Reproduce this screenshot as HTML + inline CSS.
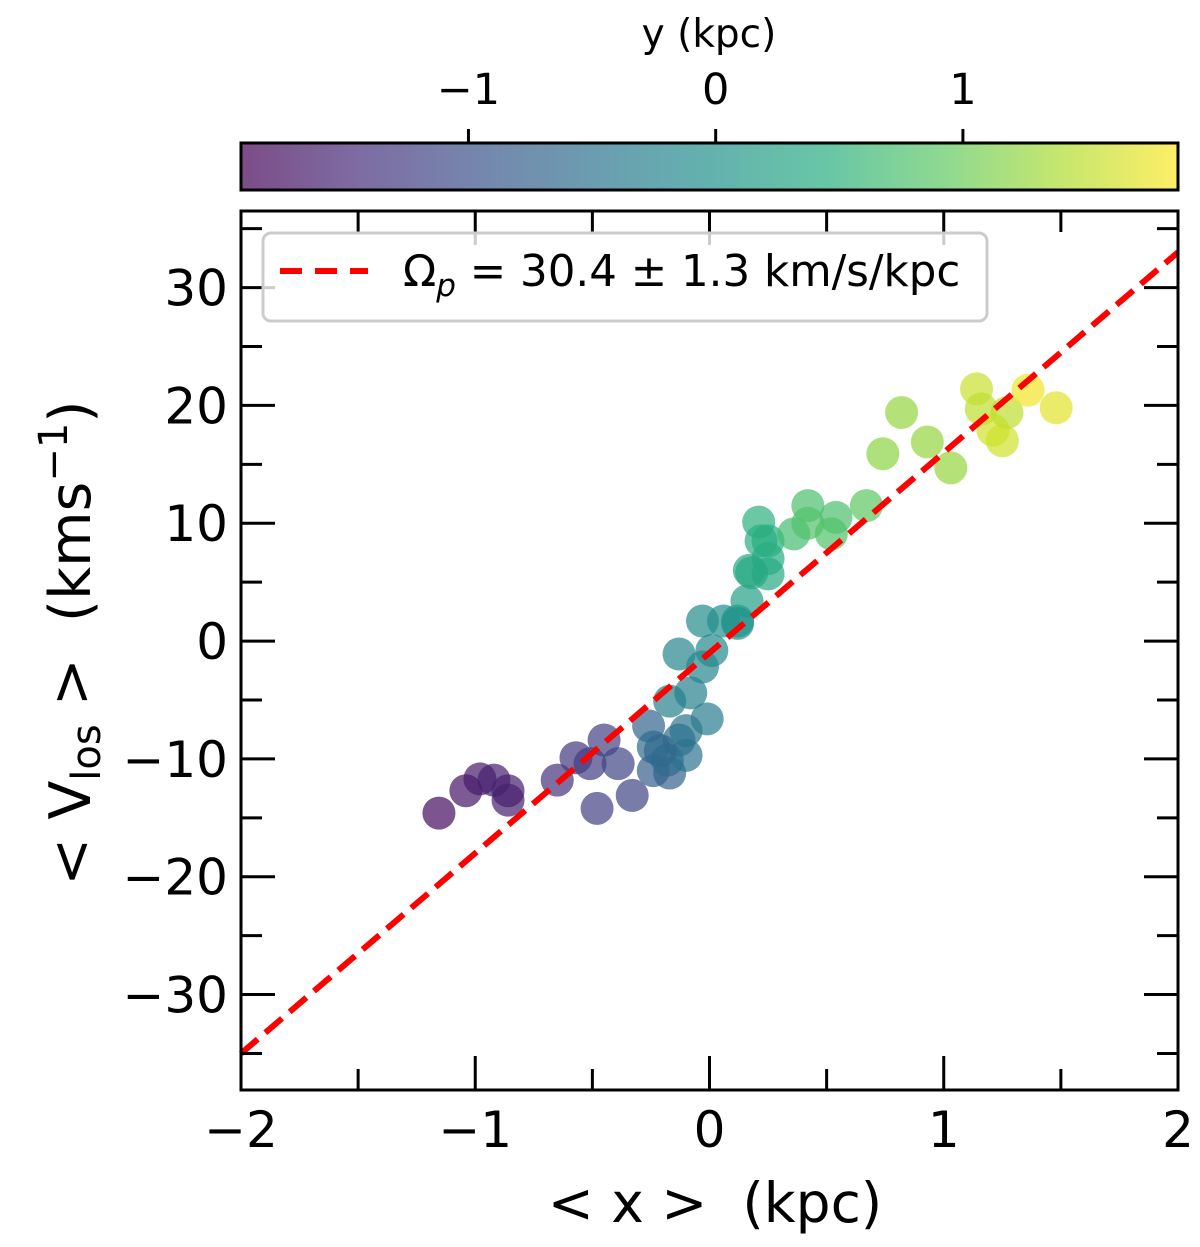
<!DOCTYPE html>
<html><head><meta charset="utf-8"><style>
html,body{margin:0;padding:0;background:#fff}
svg{display:block;font-family:"DejaVu Sans","Liberation Sans",sans-serif}
text{white-space:pre}
</style></head><body>
<svg id="chart" width="1200" height="1247" viewBox="0 0 1200 1247" xmlns="http://www.w3.org/2000/svg">
<defs>
<linearGradient id="vir" x1="0" x2="1" y1="0" y2="0">
<stop offset="0" stop-color="#440154"/><stop offset="0.125" stop-color="#472d7b"/><stop offset="0.25" stop-color="#3b528b"/><stop offset="0.375" stop-color="#2c728e"/><stop offset="0.5" stop-color="#21918c"/><stop offset="0.625" stop-color="#28ae80"/><stop offset="0.75" stop-color="#5ec962"/><stop offset="0.875" stop-color="#addc30"/><stop offset="1" stop-color="#fde725"/>
</linearGradient>
</defs>
<g id="cbar"></g>
<g id="plot"></g>
</svg>
<script>
const xs = [-1.155,-1.04,-0.98,-0.92,-0.86,-0.86,-0.65,-0.57,-0.51,-0.45,-0.39,-0.48,-0.33,-0.26,-0.24,-0.17,-0.13,-0.10,-0.01,-0.08,-0.17,-0.13,-0.03,0.01,-0.03,0.06,0.12,0.16,0.17,-0.24,-0.18,-0.10,-0.21,0.12,0.18,0.25,0.25,0.21,0.22,0.25,0.36,0.42,0.42,0.54,0.52,0.67,0.74,0.82,0.93,1.03,1.14,1.16,1.21,1.25,1.27,1.36,1.48];
const vs = [-14.6,-12.7,-11.7,-11.8,-12.7,-13.5,-11.8,-9.9,-10.4,-8.4,-10.4,-14.2,-13.1,-7.2,-11.0,-11.2,-8.4,-7.6,-6.6,-4.4,-5.1,-1.1,-2.2,-0.8,1.7,1.7,1.7,3.4,6.0,-9.0,-10.1,-9.7,-9.3,1.5,5.8,5.7,7.0,10.1,8.5,8.5,9.1,11.5,10.0,10.5,9.1,11.5,15.9,19.4,16.9,14.7,21.4,19.7,17.9,17.0,19.4,21.3,19.8];
const cs = [-1.8,-1.7,-1.65,-1.6,-1.6,-1.6,-1.4,-1.3,-1.25,-1.2,-1.15,-1.2,-1.15,-0.7,-0.8,-0.75,-0.6,-0.45,-0.35,-0.3,-0.3,-0.2,-0.2,-0.15,-0.1,-0.05,0.05,0.2,0.35,-0.6,-0.6,-0.5,-0.65,0.0,0.35,0.35,0.4,0.5,0.45,0.45,0.7,0.75,0.8,0.75,0.8,0.9,1.2,1.25,1.25,1.25,1.55,1.5,1.6,1.6,1.5,1.8,1.7];
const fitLine = [[-2,-35],[2,33]];
const xTicks = [-2,-1,0,1,2];
const yTicks = [-30,-20,-10,0,10,20,30];
const cTicks = [-1,0,1];

const NS='http://www.w3.org/2000/svg';
const L=241,R=1178,T=211,B=1090;
const X0=-2,X1=2,Y0=-38.1,Y1=36.5;
const sx=v=>L+(v-X0)/(X1-X0)*(R-L);
const sy=v=>B-(v-Y0)/(Y1-Y0)*(B-T);
const CL=241,CR=1178,CT=143,CB=190,C0=-1.92,C1=1.87;
const sc=v=>CL+(v-C0)/(C1-C0)*(CR-CL);
const vir=[[68,1,84],[71,45,123],[59,82,139],[44,114,142],[33,145,140],[40,174,128],[94,201,98],[173,220,48],[253,231,37]];
function cmap(v){let t=(v-C0)/(C1-C0);t=Math.max(0,Math.min(1,t))*8;const i=Math.min(7,Math.floor(t)),f=t-i;const a=vir[i],b=vir[i+1];return 'rgb('+a.map((c,k)=>Math.round(c+(b[k]-c)*f)).join(',')+')';}
function mk(tag,attrs,parent){const e=document.createElementNS(NS,tag);for(const k in attrs)e.setAttribute(k,attrs[k]);parent.appendChild(e);return e;}
const plot=document.getElementById('plot'),cbar=document.getElementById('cbar');

let cr=mk('rect',{x:CL,y:CT,width:CR-CL,height:CB-CT,fill:'url(#vir)','fill-opacity':0.7,stroke:'#000','stroke-width':3},cbar);


cTicks.forEach(t=>{
  let l=mk('line',{x1:sc(t),x2:sc(t),y1:CT,y2:CT-14,stroke:'#000','stroke-width':3},cbar);
  
  
  let tx=mk('text',{x:sc(t),y:104,'font-size':43,'text-anchor':'middle'},cbar);
  tx.textContent=t<0?'\u2212'+Math.abs(t):String(t);
  
  
});
let ct=mk('text',{x:709,y:47,'font-size':39,'text-anchor':'middle'},cbar);
ct.textContent='y (kpc)';



xs.forEach((x,i)=>{
  let c=mk('circle',{cx:sx(x),cy:sy(vs[i]),r:16.5,fill:cmap(cs[i]),'fill-opacity':0.7},plot);
  
  
});
let fl=mk('line',{x1:sx(fitLine[0][0]),y1:sy(fitLine[0][1]),x2:sx(fitLine[1][0]),y2:sy(fitLine[1][1]),stroke:'#ff0000','stroke-width':6,'stroke-dasharray':'22 10'},plot);


let cp=mk('rect',{x:L,y:T,width:R-L,height:B-T,fill:'none',stroke:'#000','stroke-width':3},plot);



for(let v=-2;v<=2.001;v+=0.5){
  const maj=Math.abs(v-Math.round(v))<1e-6, len=maj?34:21;
  [[B,-1],[T,1]].forEach(([yy,d])=>{
    let l=mk('line',{x1:sx(v),x2:sx(v),y1:yy,y2:yy+d*len,stroke:'#000','stroke-width':3},plot);
    
    
  });
}
for(let v=-35;v<=35;v+=5){
  const maj=v%10===0, len=maj?34:21;
  [[L,1],[R,-1]].forEach(([xx,d])=>{
    let l=mk('line',{x1:xx,x2:xx+d*len,y1:sy(v),y2:sy(v),stroke:'#000','stroke-width':3},plot);
    
    
  });
}
xTicks.forEach(t=>{
  let tx=mk('text',{x:sx(t),y:1147,'font-size':50,'text-anchor':'middle'},plot);
  tx.textContent=t<0?'\u2212'+Math.abs(t):String(t);
  
  
});
yTicks.forEach(t=>{
  let tx=mk('text',{x:228,y:sy(t)+18,'font-size':50,'text-anchor':'end'},plot);
  tx.textContent=t<0?'\u2212'+Math.abs(t):String(t);
  
  
});
let xt=mk('text',{x:715,y:1222,'font-size':55,'text-anchor':'middle'},plot);
xt.textContent='< x >  (kpc)';


let yt=mk('text',{x:0,y:0,'font-size':57,'text-anchor':'middle',transform:'translate(90,643) rotate(-90)'},plot);
yt.innerHTML='&lt; V<tspan font-size="40" dy="10">los</tspan><tspan dy="-10"> &gt;  (kms</tspan><tspan font-size="40" dy="-23">\u22121</tspan><tspan dy="23">)</tspan>';



let lg=mk('g',{},plot);


mk('rect',{x:263,y:233,width:724,height:88,rx:8,fill:'#fff','fill-opacity':0.8,stroke:'#ccc','stroke-width':3},lg);
let ll=mk('line',{x1:280,x2:368,y1:271,y2:271,stroke:'#ff0000','stroke-width':6,'stroke-dasharray':'22 13'},lg);


let lt=mk('text',{x:403,y:286,'font-size':43.5},lg);
lt.innerHTML='\u03A9<tspan font-size="31" font-style="italic" dy="10">p</tspan><tspan dy="-10"> = 30.4 \u00B1 1.3 km/s/kpc</tspan>';


</script>
</body></html>
